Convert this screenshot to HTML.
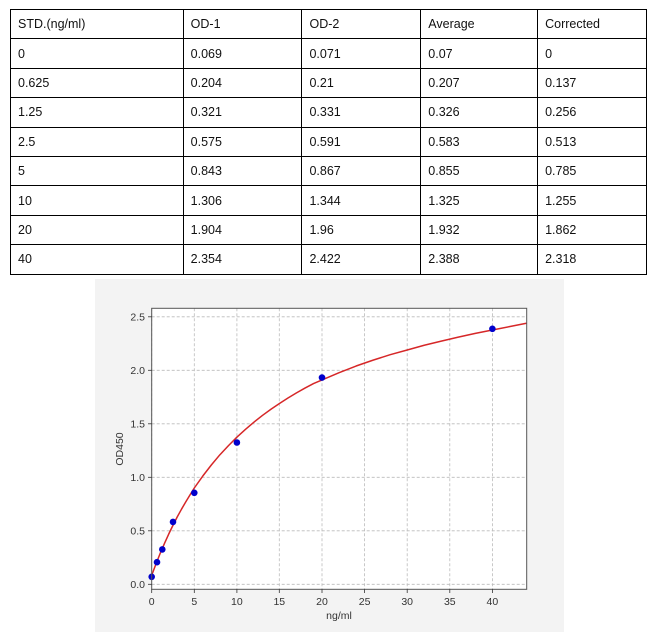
<!DOCTYPE html>
<html><head><meta charset="utf-8"><style>
body{margin:0;background:#fff;width:670px;height:640px;position:relative;overflow:hidden;font-family:"Liberation Sans",sans-serif;}
table{position:absolute;left:10px;top:9px;border-collapse:collapse;width:637px;}
td{border:1.3px solid #000;height:29.4px;padding:0 0 0 7px;font-size:12.5px;color:#111;box-sizing:border-box;}
</style></head><body>
<table>
<colgroup><col style="width:173px"><col style="width:119px"><col style="width:119px"><col style="width:117px"><col style="width:109px"></colgroup>
<tr><td>STD.(ng/ml)</td><td>OD-1</td><td>OD-2</td><td>Average</td><td>Corrected</td></tr>
<tr><td>0</td><td>0.069</td><td>0.071</td><td>0.07</td><td>0</td></tr>
<tr><td>0.625</td><td>0.204</td><td>0.21</td><td>0.207</td><td>0.137</td></tr>
<tr><td>1.25</td><td>0.321</td><td>0.331</td><td>0.326</td><td>0.256</td></tr>
<tr><td>2.5</td><td>0.575</td><td>0.591</td><td>0.583</td><td>0.513</td></tr>
<tr><td>5</td><td>0.843</td><td>0.867</td><td>0.855</td><td>0.785</td></tr>
<tr><td>10</td><td>1.306</td><td>1.344</td><td>1.325</td><td>1.255</td></tr>
<tr><td>20</td><td>1.904</td><td>1.96</td><td>1.932</td><td>1.862</td></tr>
<tr><td>40</td><td>2.354</td><td>2.422</td><td>2.388</td><td>2.318</td></tr>
</table>
<svg style="position:absolute;left:0;top:0" width="670" height="640" font-family="Liberation Sans, sans-serif" font-size="10.5" fill="#333">
<rect x="95" y="279" width="469" height="353" fill="#f3f3f3"/>
<rect x="151.7" y="308.3" width="375" height="281" fill="#fff"/>
<g stroke="#bbb" stroke-width="0.8" stroke-dasharray="3,2">
<line x1="194.3" y1="308.3" x2="194.3" y2="589.3"/><line x1="236.9" y1="308.3" x2="236.9" y2="589.3"/><line x1="279.3" y1="308.3" x2="279.3" y2="589.3"/><line x1="322" y1="308.3" x2="322" y2="589.3"/><line x1="364.6" y1="308.3" x2="364.6" y2="589.3"/><line x1="407.2" y1="308.3" x2="407.2" y2="589.3"/><line x1="449.8" y1="308.3" x2="449.8" y2="589.3"/><line x1="492.4" y1="308.3" x2="492.4" y2="589.3"/><line x1="151.7" y1="308.3" x2="151.7" y2="589.3"/>
<line x1="151.7" y1="584.3" x2="526.7" y2="584.3"/><line x1="151.7" y1="530.8" x2="526.7" y2="530.8"/><line x1="151.7" y1="477.3" x2="526.7" y2="477.3"/><line x1="151.7" y1="423.8" x2="526.7" y2="423.8"/><line x1="151.7" y1="370.3" x2="526.7" y2="370.3"/><line x1="151.7" y1="316.8" x2="526.7" y2="316.8"/>
</g>
<g transform="translate(151.7,584.3) scale(8.517,-107)">
<polyline fill="none" stroke="#d62728" stroke-width="1.5" vector-effect="non-scaling-stroke" stroke-linejoin="round" points="0,0.085 0.5,0.19 1,0.29 1.5,0.382 2,0.47 2.5,0.552 3,0.63 3.5,0.702 4,0.77 4.5,0.836 5,0.9 6,1.012 7,1.115 8,1.21 9,1.295 10,1.375 11,1.447 12,1.515 13,1.578 14,1.636 15,1.69 16,1.741 17,1.789 18,1.834 19,1.876 20,1.91 22,1.978 24,2.04 26,2.095 28,2.146 30,2.19 32,2.234 34,2.273 36,2.31 38,2.345 40,2.377 42,2.408 44,2.44"/>
</g>
<g fill="#0000cc">
<circle cx="151.7" cy="576.8" r="3.3"/><circle cx="157" cy="562.2" r="3.3"/><circle cx="162.3" cy="549.4" r="3.3"/><circle cx="173" cy="521.9" r="3.3"/><circle cx="194.3" cy="492.8" r="3.3"/><circle cx="236.9" cy="442.5" r="3.3"/><circle cx="322" cy="377.6" r="3.3"/><circle cx="492.4" cy="328.8" r="3.3"/>
</g>
<rect x="151.7" y="308.3" width="375" height="281" fill="none" stroke="#555" stroke-width="1"/>
<g stroke="#333" stroke-width="0.8">
<line x1="151.7" y1="589.3" x2="151.7" y2="593"/><line x1="194.3" y1="589.3" x2="194.3" y2="593"/><line x1="236.9" y1="589.3" x2="236.9" y2="593"/><line x1="279.3" y1="589.3" x2="279.3" y2="593"/><line x1="322" y1="589.3" x2="322" y2="593"/><line x1="364.6" y1="589.3" x2="364.6" y2="593"/><line x1="407.2" y1="589.3" x2="407.2" y2="593"/><line x1="449.8" y1="589.3" x2="449.8" y2="593"/><line x1="492.4" y1="589.3" x2="492.4" y2="593"/>
<line x1="148" y1="584.3" x2="151.7" y2="584.3"/><line x1="148" y1="530.8" x2="151.7" y2="530.8"/><line x1="148" y1="477.3" x2="151.7" y2="477.3"/><line x1="148" y1="423.8" x2="151.7" y2="423.8"/><line x1="148" y1="370.3" x2="151.7" y2="370.3"/><line x1="148" y1="316.8" x2="151.7" y2="316.8"/>
</g>
<g text-anchor="middle">
<text x="151.7" y="605">0</text><text x="194.3" y="605">5</text><text x="236.9" y="605">10</text><text x="279.3" y="605">15</text><text x="322" y="605">20</text><text x="364.6" y="605">25</text><text x="407.2" y="605">30</text><text x="449.8" y="605">35</text><text x="492.4" y="605">40</text>
<text x="339" y="619">ng/ml</text>
</g>
<g text-anchor="end">
<text x="145" y="588">0.0</text><text x="145" y="534.5">0.5</text><text x="145" y="481">1.0</text><text x="145" y="427.5">1.5</text><text x="145" y="374">2.0</text><text x="145" y="320.5">2.5</text>
</g>
<text transform="translate(123,449) rotate(-90)" text-anchor="middle">OD450</text>
</svg>
</body></html>
